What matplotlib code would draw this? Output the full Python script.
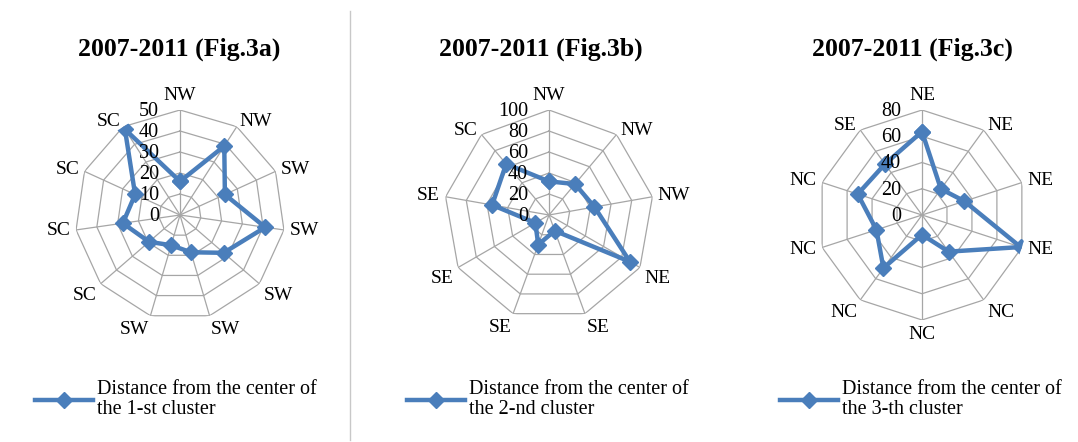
import numpy as np
import matplotlib.pyplot as plt
from matplotlib.lines import Line2D

plt.rcParams['font.family'] = ['Liberation Serif', 'DejaVu Serif']

# values
labels_a = ['NW', 'NW', 'SW', 'SW', 'SW', 'SW', 'SW', 'SC', 'SC', 'SC', 'SC']
values_a = [16, 39, 23.5, 41, 27.5, 18.5, 15, 19.5, 27.5, 23.5, 48.5]
ticks_a = [0, 10, 20, 30, 40, 50]

labels_b = ['NW', 'NW', 'NW', 'NE', 'SE', 'SE', 'SE', 'SE', 'SC']
values_b = [32, 38.5, 44, 89, 16, 30, 15, 55, 63.5]
ticks_b = [0, 20, 40, 60, 80, 100]

labels_c = ['NE', 'NE', 'NE', 'NE', 'NC', 'NC', 'NC', 'NC', 'NC', 'SE']
values_c = [63.5, 24.5, 34, 79, 34.5, 15, 50, 36.5, 51.5, 48]
ticks_c = [0, 20, 40, 60, 80]

titles = ['2007-2011 (Fig.3a)', '2007-2011 (Fig.3b)', '2007-2011 (Fig.3c)']
legend_texts = ['Distance from the center of\nthe 1-st cluster',
                'Distance from the center of\nthe 2-nd cluster',
                'Distance from the center of\nthe 3-th cluster']

W, H = 1078, 442
blue = '#4A7EBB'
grey = '#A6A6A6'

fig = plt.figure(figsize=(W / 100, H / 100), dpi=100)

centers = [180, 549, 922]
title_x = [179, 541, 912]
legend_x = [35, 407, 780]
radius = 105
cy = 215

charts = [(labels_a, values_a, ticks_a),
          (labels_b, values_b, ticks_b),
          (labels_c, values_c, ticks_c)]

for i, (labels, values, ticks) in enumerate(charts):
    cx = centers[i]
    ax = fig.add_axes([(cx - radius) / W, (H - cy - radius) / H,
                       2 * radius / W, 2 * radius / H], projection='polar')
    ax.set_theta_zero_location('N')
    ax.set_theta_direction(-1)
    ax.grid(False)
    ax.spines['polar'].set_visible(False)
    ax.set_xticks([])
    ax.set_yticks([])
    ax.patch.set_alpha(0)
    rmax = ticks[-1]
    ax.set_ylim(0, rmax)

    n = len(labels)
    ang = np.arange(n) * 2 * np.pi / n
    closed = np.append(ang, ang[0])

    # polygon grid
    for t in ticks[1:]:
        ax.plot(closed, [t] * (n + 1), color=grey, lw=0.9, zorder=1)
    for a in ang:
        ax.plot([a, a], [0, rmax], color=grey, lw=0.9, zorder=1)

    ax.plot(closed, np.append(values, values[0]), color=blue, lw=3.2,
            marker='D', ms=8.5, zorder=3, label=legend_texts[i])

    # radial tick labels
    for t in ticks:
        ax.annotate(str(t), xy=(0, t), xytext=(-15, -1), textcoords='offset points',
                    ha='right', va='center', fontsize=14.5, zorder=4)

    # category labels
    for a, lab in zip(ang, labels):
        s, c = np.sin(a), np.cos(a)
        ha = 'left' if s > 0.1 else ('right' if s < -0.1 else 'center')
        va = 'bottom' if c > 0.95 else ('top' if c < -0.45 else 'center')
        ax.annotate(lab, xy=(a, rmax), xytext=(4 * s, 4 * c), textcoords='offset points',
                    ha=ha, va=va, fontsize=14)

    fig.text(title_x[i] / W, 1 - 49 / H, titles[i], ha='center', va='center',
             fontsize=18.5, fontweight='bold')

    leg = ax.legend(loc='upper left', bbox_to_anchor=(legend_x[i] / W, 1 - 380 / H),
                    bbox_transform=fig.transFigure, frameon=False, fontsize=14.5,
                    handlelength=2.9, handletextpad=0.2, borderpad=0, borderaxespad=0,
                    numpoints=1, labelspacing=0)
    for txt in leg.get_texts():
        txt.set_linespacing(1.1)

fig.add_artist(Line2D([349.5 / W] * 2, [1 - 11 / H, 1 - 440 / H],
                      color='#C8C8C8', lw=1, transform=fig.transFigure))

fig.savefig('out.png', dpi=100)
